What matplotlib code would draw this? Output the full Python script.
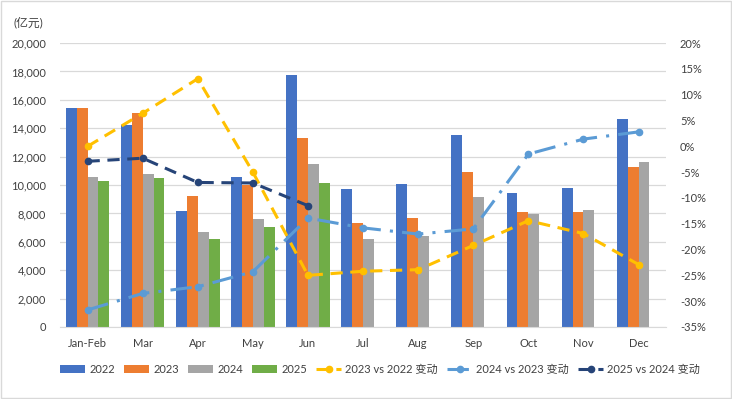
import numpy as np
import matplotlib
matplotlib.use("Agg")
import matplotlib.pyplot as plt
import matplotlib.patches as mpatches
from matplotlib.ticker import FuncFormatter

plt.rcParams['font.family'] = ['Lato', 'Noto Sans CJK SC', 'DejaVu Sans']

months = ['Jan-Feb', 'Mar', 'Apr', 'May', 'Jun', 'Jul', 'Aug', 'Sep', 'Oct', 'Nov', 'Dec']
v2022 = [15450, 14200, 8140, 10540, 17750, 9700, 10070, 13500, 9450, 9800, 14650]
v2023 = [15450, 15100, 9220, 10000, 13300, 7330, 7700, 10900, 8080, 8120, 11290]
v2024 = [10580, 10780, 6690, 7580, 11450, 6170, 6400, 9180, 7960, 8260, 11620]
v2025 = [10250, 10530, 6190, 7020, 10150, np.nan, np.nan, np.nan, np.nan, np.nan, np.nan]

chg_23_22 = [0.0, 6.4, 13.1, -5.0, -25.0, -24.2, -23.9, -19.2, -14.4, -16.9, -22.9]
chg_24_23 = [-31.7, -28.5, -27.2, -24.3, -13.9, -15.8, -17.0, -16.0, -1.5, 1.4, 2.8]
chg_25_24 = [-2.9, -2.3, -7.0, -7.1, -11.5]

bar_colors = ['#4472C4', '#ED7D31', '#A5A5A5', '#70AD47']
grid_c = '#D9D9D9'
txt_c = '#404040'

fig = plt.figure(figsize=(7.32, 3.99), dpi=100)
ax = fig.add_axes([0.082, 0.1805, 0.828, 0.7115])
ax2 = ax.twinx()

x = np.arange(len(months))
w = 0.198
series = [v2022, v2023, v2024, v2025]
labels = ['2022', '2023', '2024', '2025']
handles = []
for i, (vals, c, lab) in enumerate(zip(series, bar_colors, labels)):
    b = ax.bar(x + (i - 1.5) * w, vals, w, color=c, label=lab, zorder=2)
    handles.append(b)

ax.set_xlim(-0.5, len(months) - 0.5)
ax.set_ylim(0, 20000)
ax.set_yticks(np.arange(0, 20001, 2000))
ax.yaxis.set_major_formatter(FuncFormatter(lambda v, p: f'{int(v):,}'))
ax.grid(axis='y', color=grid_c, linewidth=0.9, zorder=0)
ax.set_axisbelow(True)
ax.set_xticks(x)
ax.set_xticklabels(months)
for s in ['left', 'right', 'top']:
    ax.spines[s].set_visible(False)
    ax2.spines[s].set_visible(False)
ax.spines['bottom'].set_color(grid_c)
ax2.spines['bottom'].set_visible(False)
ax.tick_params(axis='y', length=0, pad=10, labelsize=8, labelcolor=txt_c)
ax.tick_params(axis='x', length=0, pad=8, labelsize=8, labelcolor=txt_c)

l1, = ax2.plot(x, chg_23_22, color='#FFC000', lw=2.2, ls=(0, (4, 2.5)),
               marker='o', ms=4.5, label='2023 vs 2022 变动', zorder=3)
l2, = ax2.plot(x, chg_24_23, color='#5B9BD5', lw=2.2, ls=(0, (7, 3, 1, 3)),
               marker='o', ms=4.5, label='2024 vs 2023 变动', zorder=3)
l3, = ax2.plot(x[:len(chg_25_24)], chg_25_24, color='#264478', lw=2.2, ls=(0, (4, 2.5)),
               marker='o', ms=4.5, label='2025 vs 2024 变动', zorder=3)
ax2.set_ylim(-35, 20)
ax2.set_yticks(np.arange(-35, 21, 5))
ax2.yaxis.set_major_formatter(FuncFormatter(lambda v, p: f'{int(v)}%'))
ax2.tick_params(axis='y', length=0, pad=10, labelsize=8, labelcolor=txt_c)

fig.text(0.019, 0.945, '(亿元)', fontsize=8.5, color=txt_c, va='center', ha='left')

leg = fig.legend(handles + [l1, l2, l3], labels + [l1.get_label(), l2.get_label(), l3.get_label()],
                 loc='center', bbox_to_anchor=(0.519, 0.075), ncol=7, frameon=False,
                 fontsize=8, handlelength=2.3, handletextpad=0.35, columnspacing=0.8,
                 labelcolor=txt_c)

fig.patches.append(mpatches.Rectangle((0.001, 0.002), 0.997, 0.995, transform=fig.transFigure,
                                      fill=False, edgecolor=grid_c, lw=1))

fig.savefig('out.png', dpi=100)
